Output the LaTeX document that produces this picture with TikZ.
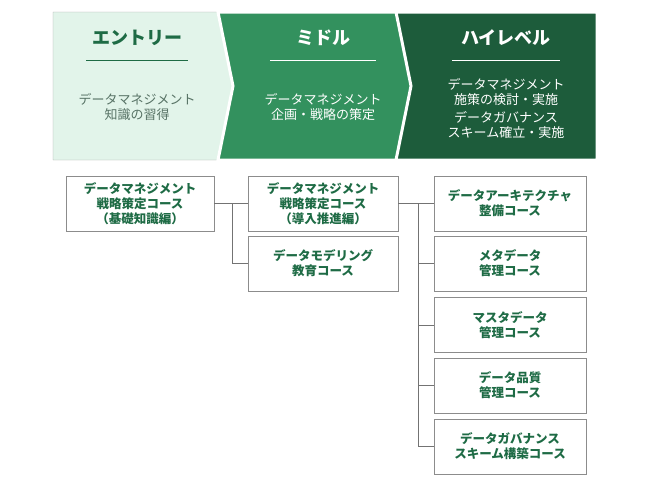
\documentclass[tikz,border=0pt]{standalone}
\usepackage{fontspec}
\setmainfont{Noto Sans CJK JP}
\begin{document}
\begin{tikzpicture}[x=1pt,y=-1pt,
  crs/.style={draw=black!45,line width=0.7pt,minimum width=150pt,minimum height=55pt,align=center,font=\bfseries\fontsize{12.5}{15}\selectfont,text=dkg,inner sep=1pt},
  ttl/.style={font=\bfseries\fontsize{18}{20}\selectfont},
  bod/.style={font=\fontsize{13}{15.5}\selectfont,align=center},
  conn/.style={draw=black!55,line width=0.8pt}]
\definecolor{dkg}{HTML}{1E6B45}
\definecolor{lg}{HTML}{E2F4EA}
\definecolor{mg}{HTML}{33915E}
\definecolor{hg}{HTML}{1D5C3B}
\useasboundingbox (0,0) rectangle (650,488);
\fill[lg,draw=black!35] (53,12)--(226,12)--(241,86)--(226,160)--(53,160)--cycle;
\filldraw[mg,draw=white,line width=3pt] (218,12)--(405,12)--(421,86)--(405,160)--(218,160)--(233,86)--cycle;
\filldraw[hg,draw=white,line width=3pt] (396,12)--(597,12)--(597,160)--(396,160)--(411,86)--cycle;
\node[ttl,text=dkg] (t1) at (137,38) {エントリー};
\node[ttl,text=white] (t2) at (323,38) {ミドル};
\node[ttl,text=white] (t3) at (506,38) {ハイレベル};
\draw[dkg,line width=1pt] (86,60)--(188,60);
\draw[white,line width=1pt] (270,60)--(376,60);
\draw[white,line width=1pt] (452,60)--(560,60);
\node[bod,text=black!50!dkg!70] (b1) at (137,107) {データマネジメント\\知識の習得};
\node[bod,text=white] (b2) at (323,107) {データマネジメント\\企画・戦略の策定};
\node[bod,text=white] (b3) at (506,92) {データマネジメント\\施策の検討・実施};
\node[bod,text=white] (b4) at (506,125) {データガバナンス\\スキーム確立・実施};
\node[crs,minimum width=148pt] (c1) at (140,203.5) {データマネジメント\\戦略策定コース\\（基礎知識編）};
\node[crs] (c2) at (323,203.5) {データマネジメント\\戦略策定コース\\（導入推進編）};
\node[crs] (c3) at (323,263.5) {データモデリング\\教育コース};
\node[crs,minimum width=152pt] (d1) at (510,203.5) {データアーキテクチャ\\整備コース};
\node[crs,minimum width=152pt] (d2) at (510,263.5) {メタデータ\\管理コース};
\node[crs,minimum width=152pt] (d3) at (510,325) {マスタデータ\\管理コース};
\node[crs,minimum width=152pt] (d4) at (510,385.5) {データ品質\\管理コース};
\node[crs,minimum width=152pt] (d5) at (510,446.5) {データガバナンス\\スキーム構築コース};
\coordinate (j1) at (232,203.5);
\coordinate (j2) at (418,203.5);
\draw[conn] (c1.east)--(c2.west);
\draw[conn] (j1)|-(c3.west);
\draw[conn] (c2.east)--(d1.west);
\foreach \n in {d2,d3,d4,d5} \draw[conn] (j2)|-(\n.west);
\end{tikzpicture}
\end{document}
